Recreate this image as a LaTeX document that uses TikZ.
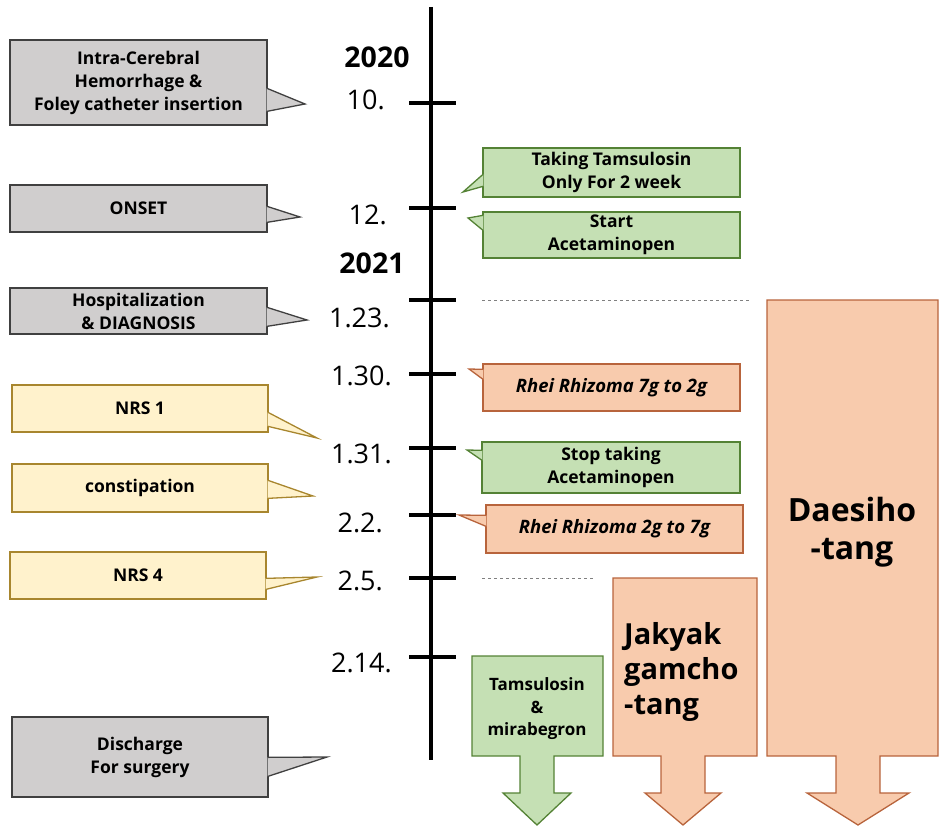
\documentclass[tikz,border=0pt]{standalone}
\usepackage{fontspec}
\setmainfont{Open Sans}
\usetikzlibrary{calc}

\definecolor{grayfill}{HTML}{D0CECE}
\definecolor{grayline}{HTML}{404040}
\definecolor{yelfill}{HTML}{FFF2CC}
\definecolor{yelline}{HTML}{A8862E}
\definecolor{grnfill}{HTML}{C5E0B4}
\definecolor{grnline}{HTML}{548235}
\definecolor{orgfill}{HTML}{F8CBAD}
\definecolor{orgline}{HTML}{B8643C}

\tikzset{
  evbox/.style={rectangle, line width=1.3pt, inner sep=0pt, align=center,
    font=\fontsize{17.5}{23}\selectfont\bfseries},
  graybox/.style={evbox, draw=grayline, fill=grayfill},
  yelbox/.style={evbox, draw=yelline, fill=yelfill},
  grnbox/.style={evbox, draw=grnline, fill=grnfill},
  orgbox/.style={evbox, draw=orgline, fill=orgfill},
  datelbl/.style={font=\fontsize{27}{27}\selectfont, inner sep=0pt},
  yearlbl/.style={font=\fontsize{28.5}{28.5}\selectfont\bfseries, inner sep=0pt},
  tickmark/.style={line width=4pt},
  guide/.style={dashed, line width=0.5pt, gray},
  bigtxt/.style={font=\fontsize{29}{35}\selectfont\bfseries, inner sep=0pt},
}

% tail of a callout: box, offset a, offset b (from top), tip, colour
\newcommand{\tailright}[5]{%
  \fill[#5fill] ($(#1.north east)+(-1,#2)$) -- (#4) -- ($(#1.north east)+(-1,#3)$) -- cycle;
  \draw[#5line, line width=1.3pt] ($(#1.north east)+(-0.65,#2)$) -- (#4) -- ($(#1.north east)+(-0.65,#3)$);
}
\newcommand{\tailleft}[5]{%
  \fill[#5fill] ($(#1.north west)+(1,#2)$) -- (#4) -- ($(#1.north west)+(1,#3)$) -- cycle;
  \draw[#5line, line width=1.3pt] ($(#1.north west)+(0.65,#2)$) -- (#4) -- ($(#1.north west)+(0.65,#3)$);
}
% block arrow pointing down: style, left, right, top, centre, shaft, head
\newcommand{\blockdown}[7]{%
  \filldraw[#1] (#2,#4) -- (#3,#4) -- (#3,756) -- ({#5+#6},756) -- ({#5+#6},793)
    -- ({#5+#7},793) -- (#5,825) -- ({#5-#7},793) -- ({#5-#6},793)
    -- ({#5-#6},756) -- (#2,756) -- cycle;
}

\begin{document}
\begin{tikzpicture}[x=1pt,y=-1pt]
\useasboundingbox (0,0) rectangle (939,826);

% time line
\coordinate (ttop) at (431,7);
\coordinate (tbot) at (431,760);
\draw[line width=4pt] (ttop) -- (tbot);
\node[yearlbl] (y2020) at (377,57) {2020};
\node[yearlbl] (y2021) at (372,263) {2021};
\foreach \ty/\ly/\lx/\lab in {103/110/385/10., 208/225/387/12., 300/327/390/1.23.,
    374/385/392/1.30., 448/463/392/1.31., 515/532/383/2.2., 578/590/383/2.5., 657/672/392/2.14.}{
  \draw[tickmark] (409,\ty) -- (456,\ty);
  \node[datelbl, anchor=base east] (d\ty) at (\lx,\ly) {\lab};
}

% left callouts
\node[graybox, minimum width=257, minimum height=85] (ich) at (138.5,82.5)
  {Intra-Cerebral\\Hemorrhage \&\\Foley catheter insertion};
\node[graybox, minimum width=257, minimum height=47] (onset) at (138.5,208.5) {ONSET};
\node[graybox, minimum width=257, minimum height=46] (hosp) at (138.5,311)
  {Hospitalization\\\& DIAGNOSIS};
\node[yelbox, minimum width=256, minimum height=47] (nrs1) at (140,408.5) {NRS 1};
\node[yelbox, minimum width=256, minimum height=48] (constip) at (140,488) {constipation};
\node[yelbox, minimum width=256, minimum height=47] (nrs4) at (138,575.5) {NRS 4};
\node[graybox, minimum width=256, minimum height=80] (disch) at (140,757)
  {Discharge\\For surgery};
\tailright{ich}{49}{72}{305,104}{gray}
\tailright{onset}{22}{38}{300,217}{gray}
\tailright{hosp}{20}{39}{307,320}{gray}
\tailright{nrs1}{28}{42}{317,438}{yel}
\tailright{constip}{17}{35}{313,496}{yel}
\tailright{nrs4}{27}{38}{317,577}{yel}
\tailright{disch}{41}{60}{327,757}{gray}

% right callouts
\node[grnbox, minimum width=257, minimum height=49] (tam2w) at (611.5,172.5)
  {Taking Tamsulosin\\Only For 2 week};
\node[grnbox, minimum width=257, minimum height=46] (acet) at (611.5,235)
  {Start\\Acetaminopen};
\node[orgbox, minimum width=257, minimum height=47] (rhei1) at (611.5,387.5)
  {\itshape\fontsize{18.5}{23}\selectfont Rhei Rhizoma 7g to 2g};
\node[grnbox, minimum width=258, minimum height=51] (stop) at (611,467.5)
  {Stop taking\\Acetaminopen};
\node[orgbox, minimum width=257, minimum height=48] (rhei2) at (614.5,529)
  {\itshape\fontsize{18.5}{23}\selectfont Rhei Rhizoma 2g to 7g};
\tailleft{tam2w}{27}{39}{463,192}{grn}
\tailleft{acet}{4}{19}{468,218}{grn}
\tailleft{rhei1}{6}{16}{469,369}{org}
\tailleft{stop}{9}{19}{467,450}{grn}
\tailleft{rhei2}{11}{22}{459,515}{org}

\draw[guide] (482,300) -- (750,300);
\draw[guide] (482,578) -- (594,578);

% medication arrows
\blockdown{draw=grnline, fill=grnfill, line width=1.3pt}{472}{603}{656}{537}{17}{34}
\blockdown{draw=orgline, fill=orgfill, line width=1.3pt}{613}{757}{578}{683}{22}{38}
\blockdown{draw=orgline, fill=orgfill, line width=1.3pt}{767}{938}{300}{858}{22}{51}
\node[evbox, font=\fontsize{17}{22.5}\selectfont\bfseries] (tamsul) at (537,709)
  {Tamsulosin\\\&\\mirabegron};
\node[bigtxt, align=left, anchor=west] (jakyak) at (624,672)
  {Jakyak\\gamcho\\-tang};
\node[bigtxt, font=\fontsize{32}{38}\selectfont\bfseries, align=center] (daesiho) at (852,532)
  {Daesiho\\-tang};

\end{tikzpicture}
\end{document}
